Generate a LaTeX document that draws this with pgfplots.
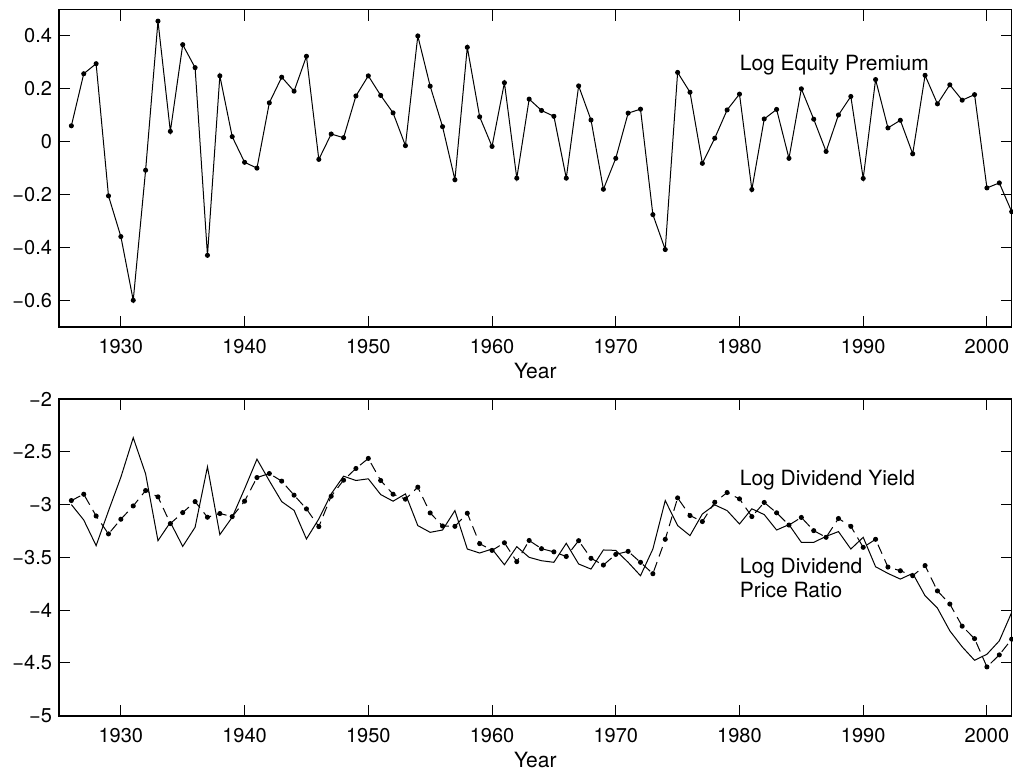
\documentclass[border=0pt]{standalone}
\usepackage{fontspec}
\setmainfont{TeX Gyre Heros}
\usepackage{pgfplots}
\usepackage{pgfplotstable}
\pgfplotsset{compat=1.18}

\pgfplotstableread{
year val
1926 0.060
1927 0.257
1928 0.295
1929 -0.205
1930 -0.359
1931 -0.600
1932 -0.108
1933 0.456
1934 0.039
1935 0.367
1936 0.280
1937 -0.430
1938 0.249
1939 0.019
1940 -0.078
1941 -0.100
1942 0.147
1943 0.244
1944 0.191
1945 0.323
1946 -0.067
1947 0.029
1948 0.015
1949 0.173
1950 0.249
1951 0.175
1952 0.109
1953 -0.015
1954 0.400
1955 0.210
1956 0.057
1957 -0.144
1958 0.357
1959 0.094
1960 -0.018
1961 0.223
1962 -0.138
1963 0.161
1964 0.118
1965 0.096
1966 -0.138
1967 0.211
1968 0.082
1969 -0.180
1970 -0.063
1971 0.108
1972 0.123
1973 -0.276
1974 -0.408
1975 0.262
1976 0.187
1977 -0.082
1978 0.013
1979 0.120
1980 0.180
1981 -0.181
1982 0.086
1983 0.122
1984 -0.063
1985 0.200
1986 0.085
1987 -0.037
1988 0.101
1989 0.171
1990 -0.139
1991 0.235
1992 0.052
1993 0.081
1994 -0.046
1995 0.251
1996 0.143
1997 0.215
1998 0.157
1999 0.178
2000 -0.175
2001 -0.156
2002 -0.265
}\premium

\pgfplotstableread{
year val
1926 -2.962
1927 -2.902
1928 -3.108
1929 -3.278
1930 -3.139
1931 -3.013
1932 -2.867
1933 -2.927
1934 -3.180
1935 -3.076
1936 -2.972
1937 -3.120
1938 -3.085
1939 -3.114
1940 -2.968
1941 -2.744
1942 -2.706
1943 -2.778
1944 -2.911
1945 -3.041
1946 -3.209
1947 -2.921
1948 -2.769
1949 -2.658
1950 -2.563
1951 -2.772
1952 -2.902
1953 -2.949
1954 -2.835
1955 -3.079
1956 -3.203
1957 -3.206
1958 -3.082
1959 -3.370
1960 -3.434
1961 -3.362
1962 -3.541
1963 -3.340
1964 -3.418
1965 -3.448
1966 -3.492
1967 -3.342
1968 -3.509
1969 -3.573
1970 -3.472
1971 -3.443
1972 -3.547
1973 -3.655
1974 -3.329
1975 -2.937
1976 -3.104
1977 -3.161
1978 -2.978
1979 -2.886
1980 -2.946
1981 -3.114
1982 -2.980
1983 -3.078
1984 -3.194
1985 -3.122
1986 -3.247
1987 -3.310
1988 -3.132
1989 -3.206
1990 -3.405
1991 -3.329
1992 -3.592
1993 -3.627
1994 -3.674
1995 -3.578
1996 -3.818
1997 -3.942
1998 -4.152
1999 -4.270
2000 -4.538
2001 -4.424
2002 -4.275
}\yield

\pgfplotstableread{
year val
1926 -3.000
1927 -3.146
1928 -3.389
1929 -3.060
1930 -2.741
1931 -2.367
1932 -2.709
1933 -3.342
1934 -3.168
1935 -3.396
1936 -3.215
1937 -2.642
1938 -3.285
1939 -3.120
1940 -2.851
1941 -2.570
1942 -2.775
1943 -2.972
1944 -3.055
1945 -3.326
1946 -3.136
1947 -2.899
1948 -2.731
1949 -2.772
1950 -2.756
1951 -2.905
1952 -2.968
1953 -2.899
1954 -3.199
1955 -3.263
1956 -3.241
1957 -3.057
1958 -3.421
1959 -3.459
1960 -3.421
1961 -3.570
1962 -3.399
1963 -3.500
1964 -3.532
1965 -3.547
1966 -3.367
1967 -3.563
1968 -3.611
1969 -3.430
1970 -3.434
1971 -3.547
1972 -3.674
1973 -3.421
1974 -2.962
1975 -3.199
1976 -3.294
1977 -3.089
1978 -3.003
1979 -3.057
1980 -3.184
1981 -3.040
1982 -3.095
1983 -3.241
1984 -3.190
1985 -3.358
1986 -3.358
1987 -3.301
1988 -3.256
1989 -3.421
1990 -3.310
1991 -3.589
1992 -3.652
1993 -3.706
1994 -3.652
1995 -3.864
1996 -3.981
1997 -4.196
1998 -4.348
1999 -4.475
2000 -4.418
2001 -4.291
2002 -4.022
}\ratio

\pgfplotsset{mystyle/.style={
  scale only axis, width=476.35pt,
  xmin=1925, xmax=2002,
  xtick={1930,1940,1950,1960,1970,1980,1990,2000},
  xticklabels={1930,1940,1950,1960,1970,1980,1990,2000},
  tick align=inside, major tick length=5.5pt,
  axis line style={line width=0.8pt},
  every tick/.style={line width=0.5pt, black},
  tick label style={font=\fontsize{10}{12}\selectfont},
  xticklabel style={yshift=-2.6pt},
  xlabel={Year},
  xlabel style={at={(axis description cs:0.5,0)}, anchor=center, yshift=-22pt, font=\fontsize{10.5}{12}\selectfont},
  /pgf/number format/assume math mode=true,
}}

\begin{document}
\begin{tikzpicture}
\useasboundingbox (0,0) rectangle (506.5pt,-385.5pt);
\begin{axis}[mystyle, at={(29.5pt,-4.75pt)}, anchor=north west, height=158.6pt,
  ymin=-0.7, ymax=0.5,
  ytick={-0.6,-0.4,-0.2,0,0.2,0.4},
  yticklabels={−0.6,−0.4,−0.2,0,0.2,0.4}]
\addplot[black, line width=0.5pt, mark=*, mark size=1pt] table[x=year,y=val] {\premium};
\node[anchor=base west, inner sep=0pt, font=\fontsize{10.5}{12}\selectfont] at (axis cs:1980,0.271) {Log Equity Premium};
\end{axis}
\begin{axis}[mystyle, at={(29.5pt,-199.5pt)}, anchor=north west, height=158.35pt,
  ymin=-5, ymax=-2,
  ytick={-5,-4.5,-4,-3.5,-3,-2.5,-2},
  yticklabels={−5,−4.5,−4,−3.5,−3,−2.5,−2}]
\addplot[black, line width=0.5pt] table[x=year,y=val] {\ratio};
\addplot[black, line width=0.5pt, dash pattern=on 5pt off 3pt, mark=*, mark size=1pt, mark options={solid}] table[x=year,y=val] {\yield};
\node[anchor=base west, inner sep=0pt, font=\fontsize{10.5}{12}\selectfont] at (axis cs:1980,-2.82) {Log Dividend Yield};
\node[anchor=base west, inner sep=0pt, font=\fontsize{10.5}{12}\selectfont] at (axis cs:1980,-3.652) {Log Dividend};
\node[anchor=base west, inner sep=0pt, font=\fontsize{10.5}{12}\selectfont] at (axis cs:1980,-3.88) {Price Ratio};
\end{axis}
\end{tikzpicture}
\end{document}
